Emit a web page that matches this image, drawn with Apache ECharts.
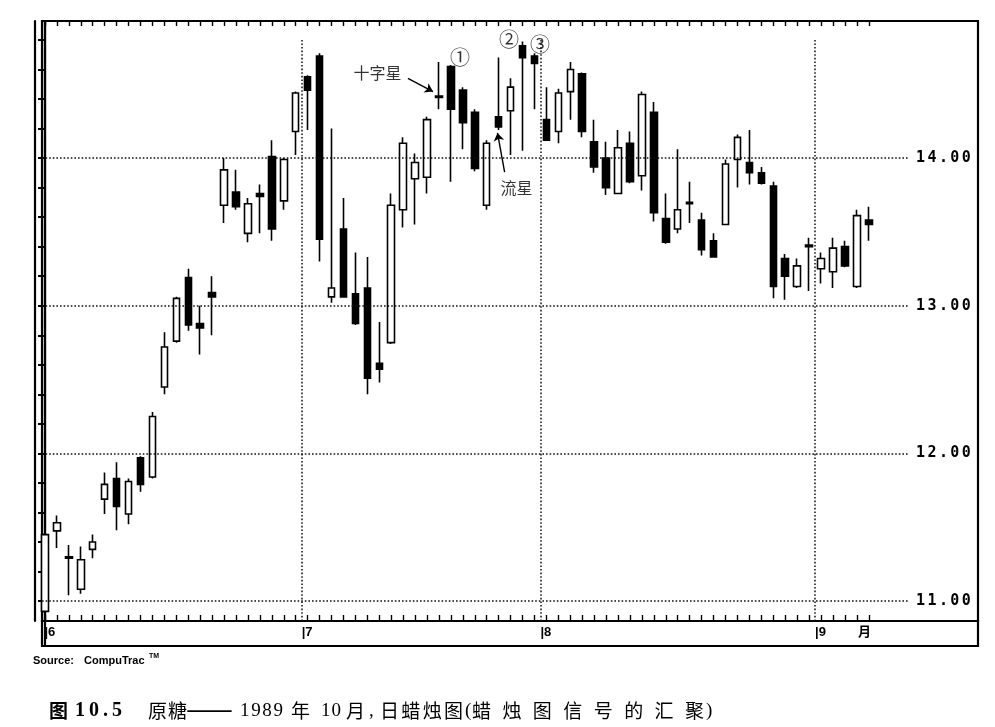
<!DOCTYPE html>
<html><head><meta charset="utf-8">
<script src="https://cdn.jsdelivr.net/npm/echarts@6/dist/echarts.min.js"></script>
<style>html,body{margin:0;padding:0;background:#fff}#c{width:995px;height:727px}</style>
</head><body><div id="c"></div>
<script>
// ---- data (Raw sugar, daily, Jun–Sep 1989) ----
const dates = [
 '1989-06-01','1989-06-02','1989-06-05','1989-06-06','1989-06-07','1989-06-08','1989-06-09','1989-06-12','1989-06-13','1989-06-14','1989-06-15',
 '1989-06-16','1989-06-19','1989-06-20','1989-06-21','1989-06-22','1989-06-23','1989-06-26','1989-06-27','1989-06-28','1989-06-29','1989-06-30',
 '1989-07-03','1989-07-05','1989-07-06','1989-07-07','1989-07-10','1989-07-11','1989-07-12','1989-07-13','1989-07-14','1989-07-17',
 '1989-07-18','1989-07-19','1989-07-20','1989-07-21','1989-07-24','1989-07-25','1989-07-26','1989-07-27','1989-07-28','1989-07-31',
 '1989-08-01','1989-08-02','1989-08-03','1989-08-04','1989-08-07','1989-08-08','1989-08-09','1989-08-10','1989-08-11','1989-08-14','1989-08-15',
 '1989-08-16','1989-08-17','1989-08-18','1989-08-21','1989-08-22','1989-08-23','1989-08-24','1989-08-25','1989-08-28','1989-08-29','1989-08-30','1989-08-31',
 '1989-09-01','1989-09-05','1989-09-06','1989-09-07','1989-09-08'
];
const opens = [
 10.93,11.475,11.30,11.08,11.35,11.69,11.83,11.59,11.97,11.84,12.45,12.76,13.19,12.88,13.09,13.68,13.77,13.49,13.76,14.01,13.71,14.18,
 14.55,14.69,13.06,13.52,13.08,13.12,12.61,12.75,13.65,13.86,13.87,14.42,14.62,14.46,14.31,13.68,14.28,14.32,14.76,14.69,
 14.26,14.18,14.45,14.57,14.11,14.00,13.76,14.10,13.88,14.31,13.59,13.52,13.70,13.58,13.44,13.55,13.99,13.97,13.90,13.81,13.32,13.13,13.41,
 13.25,13.23,13.40,13.13,13.58
];
const closes = [
 11.45,11.53,11.29,11.28,11.40,11.79,11.64,11.81,11.79,12.25,12.72,13.05,12.87,12.85,13.06,13.92,13.67,13.69,13.74,13.52,13.99,14.44,
 14.46,13.45,13.12,13.06,12.88,12.51,12.57,13.68,14.10,13.97,14.26,14.41,14.33,14.24,13.93,14.10,14.21,14.48,14.68,14.64,
 14.12,14.44,14.60,14.18,13.94,13.80,14.07,13.84,14.43,13.63,13.43,13.65,13.69,13.38,13.33,13.96,14.14,13.90,13.83,13.13,13.20,13.27,13.40,
 13.32,13.39,13.27,13.61,13.55
];
const lows = [
 10.92,11.36,11.04,11.05,11.29,11.59,11.48,11.52,11.74,11.83,12.40,12.75,12.83,12.67,12.80,13.56,13.65,13.43,13.49,13.44,13.65,14.02,
 14.19,13.30,13.02,13.06,12.87,12.40,12.48,12.74,13.53,13.55,13.76,14.33,13.84,14.06,13.91,13.65,14.19,14.02,14.05,14.33,
 14.12,14.10,14.26,14.14,13.90,13.75,13.76,13.83,13.78,13.57,13.42,13.49,13.56,13.34,13.33,13.55,13.80,13.82,13.82,13.05,13.04,13.12,13.10,
 13.15,13.12,13.26,13.12,13.44
];
const highs = [
 11.46,11.58,11.38,11.37,11.45,11.87,11.94,11.83,11.98,12.28,12.82,13.06,13.25,13.00,13.20,14.00,13.92,13.73,13.82,14.12,14.00,14.45,
 14.56,14.71,14.20,13.73,13.36,13.33,12.89,13.76,14.14,14.03,14.28,14.65,14.63,14.48,14.33,14.12,14.68,14.54,14.79,14.71,
 14.48,14.47,14.65,14.58,14.26,14.11,14.19,14.18,14.45,14.38,13.76,14.06,13.84,13.63,13.49,13.99,14.16,14.19,13.94,13.84,13.35,13.32,13.46,
 13.36,13.46,13.44,13.65,13.67
];
const priceLabels = [11, 12, 13, 14];
const unitLabel = '月';
const annotations = [
 {text:'十字星', x:27.85, y:14.576, size:16},
 {text:'流星',   x:39.5, y:13.80,  size:16},
 {text:'①', x:34.76, y:14.68, size:20},
 {text:'②', x:38.86, y:14.80, size:20},
 {text:'③', x:41.46, y:14.77, size:20}
];
const arrows = [
 {from:[30.4, 14.54], to:[32.5, 14.45]},
 {from:[38.5, 13.905], to:[37.9, 14.17]}
];

// ---- derived ----
const X_MIN = -0.25, X_MAX = 78.15, Y_MIN = 10.865, Y_MAX = 14.928;
const idx = dates.map((d, i) => i);
const candleData = dates.map((d, i) => [i, opens[i], closes[i], lows[i], highs[i]]);
const minorTicks = [];
for (let k = 0; k <= 19; k++) minorTicks.push(Math.round((11 + k * 0.2) * 10) / 10);
const monthBounds = [];
dates.forEach((d, i) => { const m = d.slice(5, 7); if (i === 0 || dates[i - 1].slice(5, 7) !== m) monthBounds.push({i: i, m: String(+m)}); });
const labelMap = {};
const labelPos = monthBounds.map(b => { const v = Math.max(b.i - 0.5, X_MIN + 0.2); labelMap[v.toFixed(2)] = '|' + b.m; return v; });
const unitPos = monthBounds[monthBounds.length - 1].i - 0.5 + 3.6;
labelMap[unitPos.toFixed(2)] = unitLabel;
labelPos.push(unitPos);

const dotted = {color:'#111', width:1.5, type:[1.6, 2.0]};
const gridLines = [];
priceLabels.forEach(p => gridLines.push([{coord:[X_MIN, p]}, {coord:[72.4, p]}]));
monthBounds.slice(1).forEach(b => gridLines.push([{coord:[b.i - 0.5, Y_MIN]}, {coord:[b.i - 0.5, 14.8]}]));

// caption layout
const CJK = '"Noto Sans CJK SC"', SERIF = '"Liberation Serif"', SANS = '"Liberation Sans"';
const mctx = document.createElement('canvas').getContext('2d');
function layout(parts, y) {
  const els = [];
  parts.forEach(p => {
    const font = (p.bold ? 'bold ' : '') + p.size + 'px ' + p.family;
    mctx.font = font;
    const chars = p.end != null ? Array.from(p.text) : [p.text];
    const ws = chars.map(c => mctx.measureText(c).width);
    let sp = 0;
    if (p.end != null && chars.length > 1) sp = (p.end - p.x - ws.reduce((a, b) => a + b, 0)) / (chars.length - 1);
    let x = p.x;
    chars.forEach((c, k) => {
      els.push({type:'text', silent:true, style:{text:c, x:x, y:(p.y || y), font:font, fill:'#000', verticalAlign:'middle', align:'left'}});
      x += ws[k] + sp;
    });
  });
  return els;
}
const captionParts = [
 {text:'图', x:49, size:19, bold:true, family:CJK},
 {text:'10.5', x:75, end:122, size:20, bold:true, family:SERIF},
 {text:'原糖', x:148, end:187, size:19, family:CJK},
 {text:'——', x:186, size:28, family:CJK, y:708},
 {text:'1989', x:240, end:283, size:19, family:SERIF},
 {text:'年', x:291, size:19, family:CJK},
 {text:'10', x:321, end:341, size:19, family:SERIF},
 {text:'月', x:346, size:19, family:CJK},
 {text:',', x:369, size:19, family:SERIF},
 {text:'日蜡烛图', x:380, end:463, size:19, family:CJK},
 {text:'(', x:465, size:19, family:SERIF},
 {text:'蜡烛图信号的汇聚', x:472, end:704, size:19, family:CJK},
 {text:')', x:706, size:19, family:SERIF}
];
const graphics = layout(captionParts, 711).concat(layout([
 {text:'Source:', x:33, size:11, bold:true, family:SANS},
 {text:'CompuTrac', x:84, size:11, bold:true, family:SANS},
 {text:'TM', x:149, size:7, bold:true, family:SANS, y:656}
], 661));

const chart = echarts.init(document.getElementById('c'), null, {renderer:'canvas'});
const axisLineStyle = {color:'#000', width:2.2};
chart.setOption({
  animation: false,
  backgroundColor: '#fff',
  grid: [
    {left:42, right:17, top:21, height:600, show:true, borderColor:'#000', borderWidth:2.2, backgroundColor:'transparent'},
    {left:42, right:17, top:621, height:25, show:true, borderColor:'#000', borderWidth:2.2, backgroundColor:'transparent'}
  ],
  xAxis: [
    {gridIndex:0, type:'value', min:X_MIN, max:X_MAX, position:'bottom',
     axisLine:{show:true, lineStyle:axisLineStyle},
     axisTick:{show:true, inside:true, length:6, customValues:idx, lineStyle:{color:'#000', width:1.4}},
     axisLabel:{show:false}, splitLine:{show:false}},
    {gridIndex:0, type:'value', min:X_MIN, max:X_MAX, position:'top',
     axisLine:{show:true, lineStyle:axisLineStyle},
     axisTick:{show:true, inside:true, length:5, customValues:idx, lineStyle:{color:'#000', width:1.4}},
     axisLabel:{show:false}, splitLine:{show:false}},
    {gridIndex:1, type:'value', min:X_MIN, max:X_MAX, position:'top',
     axisLine:{show:false}, axisTick:{show:false}, splitLine:{show:false},
     axisLabel:{show:true, inside:true, margin:5, customValues:labelPos, align:'left',
       formatter: v => labelMap[(+v).toFixed(2)] || '',
       color:'#000', fontSize:13, fontWeight:'bold', fontFamily:'"Liberation Sans", "Noto Sans CJK SC"'}}
  ],
  yAxis: [
    {gridIndex:0, type:'value', min:Y_MIN, max:Y_MAX, position:'right',
     axisLine:{show:true, lineStyle:axisLineStyle},
     axisTick:{show:true, inside:true, length:6, customValues:minorTicks, lineStyle:{color:'#000', width:1.6}},
     axisLabel:{show:true, inside:true, margin:6, customValues:priceLabels,
       formatter: v => (+v).toFixed(2).split('').map(c => '{d|' + c + '}').join(''),
       rich:{d:{fontFamily:'"DejaVu Sans Mono"', fontWeight:'bold', fontSize:15, color:'#000', padding:[0,1.2,0,1.2]}}},
     splitLine:{show:false}},
    {gridIndex:0, type:'value', min:Y_MIN, max:Y_MAX, position:'left',
     axisLine:{show:true, lineStyle:axisLineStyle},
     axisTick:{show:true, inside:false, length:7, customValues:minorTicks, lineStyle:{color:'#000', width:2}},
     axisLabel:{show:false}, splitLine:{show:false}},
    {gridIndex:0, type:'value', min:Y_MIN, max:Y_MAX, position:'left', offset:7,
     axisLine:{show:true, lineStyle:axisLineStyle}, axisTick:{show:false}, axisLabel:{show:false}, splitLine:{show:false}},
    {gridIndex:1, type:'value', min:0, max:1, position:'left', offset:7,
     axisLine:{show:true, lineStyle:axisLineStyle}, axisTick:{show:false}, axisLabel:{show:false}, splitLine:{show:false}}
  ],
  series: [
    {type:'scatter', xAxisIndex:0, yAxisIndex:0, z:1, silent:true, symbolSize:0, data:[[0, 12]],
     markLine:{silent:true, symbol:['none','none'], label:{show:false}, lineStyle:dotted, data:gridLines}},
    {type:'candlestick', xAxisIndex:0, yAxisIndex:0, z:3, barWidth:7,
     encode:{x:0, y:[1,2,3,4]}, data:candleData,
     itemStyle:{color:'#fff', color0:'#000', borderColor:'#000', borderColor0:'#000', borderWidth:1.6}},
    {type:'scatter', xAxisIndex:0, yAxisIndex:0, z:4, silent:true, symbolSize:2, itemStyle:{color:'rgba(0,0,0,0)'},
     data: annotations.map(a => ({value:[a.x, a.y], name:a.text,
       label:{show:true, position:'inside', formatter:a.text, fontSize:a.size, color:'#000', fontFamily:'"Noto Sans CJK SC"'}})),
     markLine:{silent:true, symbol:['none','arrow'], symbolSize:8, label:{show:false},
       lineStyle:{color:'#000', width:1.4, type:'solid'},
       data: arrows.map(a => [{coord:a.from}, {coord:a.to}])}}
  ],
  graphic: graphics
});
</script>
</body></html>
